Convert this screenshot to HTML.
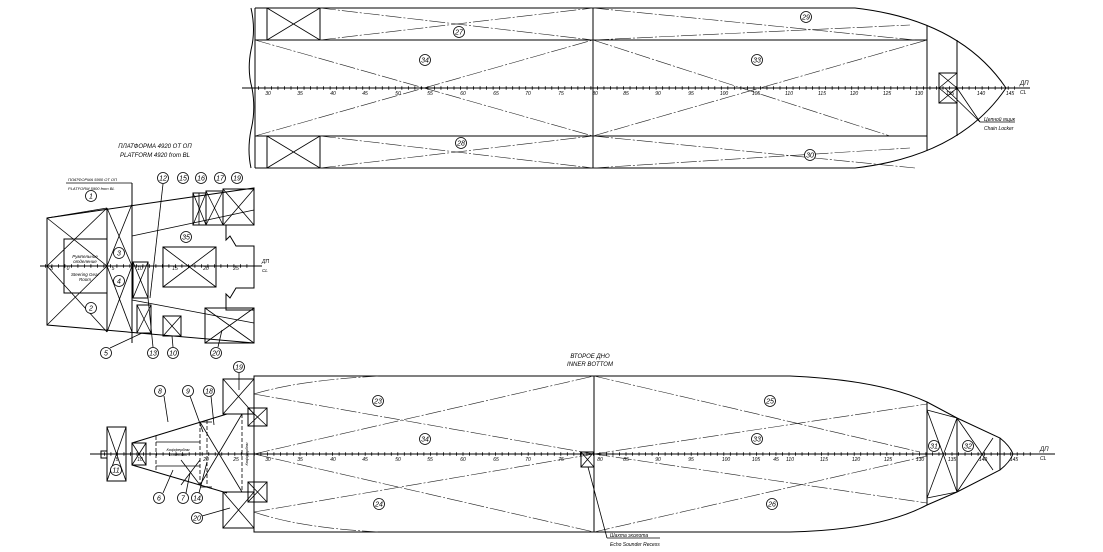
<!DOCTYPE html>
<html><head><meta charset="utf-8"><style>
html,body{margin:0;padding:0;background:#fff;}
svg{display:block;}
text{font-family:"Liberation Sans",sans-serif;font-style:italic;fill:#000;}
.s{stroke:#000;fill:none;stroke-width:1;}
.t{stroke:#000;fill:none;stroke-width:0.8;}
.d{stroke:#222;fill:none;stroke-width:0.6;stroke-dasharray:16 2 2 2;}
.c{stroke:#000;fill:#fff;stroke-width:0.8;}
.n{font-size:7px;text-anchor:middle;font-style:italic;}
.f{font-size:5px;text-anchor:middle;}
</style></head><body>
<svg width="1103" height="552" viewBox="0 0 1103 552" xmlns="http://www.w3.org/2000/svg">
<!-- ========== TOP HULL ========== -->
<path class="s" d="M251 8 Q256 30 251 50 Q247 70 252 88 Q256 110 251 130 Q247 150 251 168"/>
<line class="s" x1="255" y1="8" x2="255" y2="168"/>
<path class="s" d="M255 8 L855 8 Q960 20 1006 88 Q960 156 855 168 L255 168"/>
<line class="s" x1="255" y1="40" x2="927" y2="40"/>
<line class="s" x1="255" y1="136" x2="927" y2="136"/>
<line class="s" x1="927" y1="25" x2="927" y2="151"/>
<line class="s" x1="957" y1="40" x2="957" y2="136"/>
<line class="s" x1="320" y1="8" x2="320" y2="40"/><line class="s" x1="320" y1="136" x2="320" y2="168"/>
<line class="s" x1="267" y1="8" x2="267" y2="40"/><line class="s" x1="267" y1="136" x2="267" y2="168"/>
<line class="t" x1="267" y1="8" x2="320" y2="40"/><line class="t" x1="267" y1="40" x2="320" y2="8"/>
<line class="t" x1="267" y1="136" x2="320" y2="168"/><line class="t" x1="267" y1="168" x2="320" y2="136"/>
<line class="s" x1="593" y1="8" x2="593" y2="168" stroke="#555"/>
<line class="d" x1="320" y1="8" x2="593" y2="40"/><line class="d" x1="320" y1="40" x2="593" y2="8"/>
<line class="d" x1="320" y1="136" x2="593" y2="168"/><line class="d" x1="320" y1="168" x2="593" y2="136"/>
<line class="d" x1="593" y1="8" x2="915" y2="40"/><line class="d" x1="593" y1="40" x2="910" y2="25"/>
<line class="d" x1="593" y1="136" x2="915" y2="168"/><line class="d" x1="593" y1="168" x2="910" y2="148"/>
<line class="d" x1="255" y1="40" x2="593" y2="136"/><line class="d" x1="255" y1="136" x2="593" y2="40"/>
<line class="d" x1="593" y1="40" x2="890" y2="136"/><line class="d" x1="593" y1="136" x2="927" y2="40"/>
<rect class="s" x="939" y="73" width="18" height="30"/>
<line class="t" x1="939" y1="73" x2="957" y2="88"/><line class="t" x1="939" y1="88" x2="957" y2="73"/>
<line class="t" x1="939" y1="88" x2="957" y2="103"/><line class="t" x1="939" y1="103" x2="957" y2="88"/>
<line class="t" x1="945" y1="88" x2="980" y2="122"/><line class="t" x1="957" y1="88" x2="980" y2="122"/>
<line class="t" x1="980" y1="122" x2="1015" y2="122"/>
<text x="984" y="121" style="font-size:5px">Цепной ящик</text>
<text x="984" y="130" style="font-size:5px">Chain Locker</text>
<line class="s" x1="242" y1="88" x2="1030" y2="88"/>
<line x1="258" y1="88" x2="1015" y2="88" stroke="#000" stroke-width="3.5" stroke-dasharray="0.8 5.72"/>
<text x="1020" y="85" style="font-size:6px">ДП</text><text x="1020" y="94" style="font-size:5px">CL</text>
<g class="f">
<text x="268" y="95">30</text><text x="300" y="95">35</text><text x="333" y="95">40</text><text x="365" y="95">45</text><text x="398" y="95">50</text><text x="430" y="95">55</text><text x="463" y="95">60</text><text x="496" y="95">65</text><text x="528" y="95">70</text><text x="561" y="95">75</text><text x="595" y="95">80</text><text x="626" y="95">85</text><text x="658" y="95">90</text><text x="691" y="95">95</text><text x="724" y="95">100</text><text x="756" y="95">105</text><text x="789" y="95">110</text><text x="822" y="95">115</text><text x="854" y="95">120</text><text x="887" y="95">125</text><text x="919" y="95">130</text><text x="950" y="95">135</text><text x="981" y="95">140</text><text x="1010" y="95">145</text>
</g>
<g>
<circle class="c" cx="459" cy="32" r="5.5"/><text class="n" x="459" y="34.5">27</text>
<circle class="c" cx="425" cy="60" r="5.5"/><text class="n" x="425" y="62.5">34</text>
<circle class="c" cx="461" cy="143" r="5.5"/><text class="n" x="461" y="145.5">28</text>
<circle class="c" cx="806" cy="17" r="5.5"/><text class="n" x="806" y="19.5">29</text>
<circle class="c" cx="757" cy="60" r="5.5"/><text class="n" x="757" y="62.5">33</text>
<circle class="c" cx="810" cy="155" r="5.5"/><text class="n" x="810" y="157.5">30</text>
</g>
<!-- ========== MIDDLE PLATFORM ========== -->
<text x="155" y="148" style="font-size:6px;text-anchor:middle">ПЛАТФОРМА 4920 ОТ ОП</text>
<text x="155" y="157" style="font-size:6px;text-anchor:middle">PLATFORM 4920 from BL</text>
<text x="68" y="181" style="font-size:4px">ПЛАТФОРМА 5900 ОТ ОП</text>
<text x="68" y="190" style="font-size:4px">PLATFORM 5900 from BL</text>
<line class="t" x1="66" y1="183" x2="132" y2="183"/>
<line class="s" x1="132" y1="183" x2="132" y2="343"/>
<path class="s" d="M47 218 L254 188 L254 225 L226 225 L226 240 L230 236 L236 246 L254 246 L254 288 L236 288 L230 298 L226 294 L226 310 L254 310 L254 343 L47 325 Z"/>
<line class="s" x1="107" y1="208" x2="107" y2="332"/>
<line class="t" x1="47" y1="218" x2="107" y2="208"/>
<line class="t" x1="47" y1="218" x2="107" y2="266"/><line class="t" x1="47" y1="266" x2="107" y2="208"/>
<line class="t" x1="47" y1="266" x2="107" y2="332"/><line class="t" x1="47" y1="325" x2="107" y2="266"/>
<line class="t" x1="107" y1="208" x2="132" y2="266"/><line class="t" x1="107" y1="266" x2="132" y2="204"/>
<line class="t" x1="107" y1="266" x2="132" y2="332"/><line class="t" x1="107" y1="332" x2="132" y2="266"/>
<line class="t" x1="132" y1="236" x2="254" y2="210"/>
<line class="t" x1="132" y1="300" x2="254" y2="323"/>
<rect class="s" x="64" y="239" width="43" height="54" fill="#fff"/>
<text x="85" y="258" style="font-size:4.5px;text-anchor:middle">Румпельное</text>
<text x="85" y="263" style="font-size:4.5px;text-anchor:middle">отделение</text>
<text x="85" y="276" style="font-size:4.5px;text-anchor:middle">Steering Gear</text>
<text x="85" y="281" style="font-size:4.5px;text-anchor:middle">Room</text>
<rect class="s" x="133" y="262" width="15" height="36"/>
<line class="t" x1="133" y1="262" x2="148" y2="298"/><line class="t" x1="133" y1="298" x2="148" y2="262"/>
<rect class="s" x="163" y="247" width="53" height="40"/>
<line class="t" x1="163" y1="247" x2="216" y2="287"/><line class="t" x1="163" y1="287" x2="216" y2="247"/>
<rect class="s" x="193" y="193" width="13" height="32"/>
<line class="t" x1="193" y1="193" x2="206" y2="225"/><line class="t" x1="193" y1="225" x2="206" y2="193"/>
<line class="t" x1="199" y1="193" x2="199" y2="225"/>
<rect class="s" x="206" y="191" width="17" height="34"/>
<line class="t" x1="206" y1="191" x2="223" y2="225"/><line class="t" x1="206" y1="225" x2="223" y2="191"/>
<rect class="s" x="223" y="189" width="31" height="36"/>
<line class="t" x1="223" y1="189" x2="254" y2="225"/><line class="t" x1="223" y1="225" x2="254" y2="189"/>
<rect class="s" x="137" y="305" width="14" height="28"/>
<line class="t" x1="137" y1="305" x2="151" y2="333"/><line class="t" x1="137" y1="333" x2="151" y2="305"/>
<rect class="s" x="163" y="316" width="18" height="20"/>
<line class="t" x1="163" y1="316" x2="181" y2="336"/><line class="t" x1="163" y1="336" x2="181" y2="316"/>
<rect class="s" x="205" y="308" width="49" height="35"/>
<line class="t" x1="205" y1="308" x2="254" y2="343"/><line class="t" x1="205" y1="343" x2="254" y2="308"/>
<line class="s" x1="40" y1="266" x2="262" y2="266"/>
<line x1="45" y1="266" x2="250" y2="266" stroke="#000" stroke-width="3.5" stroke-dasharray="0.8 5.7"/>
<text x="262" y="263" style="font-size:5px">ДП</text><text x="262" y="272" style="font-size:4.5px">CL</text>
<g class="f"><text x="51" y="270">-5</text><text x="68" y="270">0</text><text x="113" y="270">5</text><text x="140" y="270">10</text><text x="175" y="270">15</text><text x="206" y="270">20</text><text x="236" y="270">25</text></g>
<line class="t" x1="163" y1="184" x2="150" y2="298"/>
<line class="t" x1="148" y1="298" x2="153" y2="347"/>
<line class="t" x1="142" y1="333" x2="110" y2="348"/>
<line class="t" x1="172" y1="336" x2="173" y2="347"/>
<line class="t" x1="222" y1="330" x2="218" y2="347"/>
<g>
<circle class="c" cx="91" cy="196" r="5.5"/><text class="n" x="91" y="198.5">1</text>
<circle class="c" cx="91" cy="308" r="5.5"/><text class="n" x="91" y="310.5">2</text>
<circle class="c" cx="119" cy="253" r="5.5"/><text class="n" x="119" y="255.5">3</text>
<circle class="c" cx="119" cy="281" r="5.5"/><text class="n" x="119" y="283.5">4</text>
<circle class="c" cx="163" cy="178" r="5.5"/><text class="n" x="163" y="180.5">12</text>
<circle class="c" cx="183" cy="178" r="5.5"/><text class="n" x="183" y="180.5">15</text>
<circle class="c" cx="201" cy="178" r="5.5"/><text class="n" x="201" y="180.5">16</text>
<circle class="c" cx="220" cy="178" r="5.5"/><text class="n" x="220" y="180.5">17</text>
<circle class="c" cx="237" cy="178" r="5.5"/><text class="n" x="237" y="180.5">19</text>
<circle class="c" cx="186" cy="237" r="5.5"/><text class="n" x="186" y="239.5">35</text>
<circle class="c" cx="106" cy="353" r="5.5"/><text class="n" x="106" y="355.5">5</text>
<circle class="c" cx="153" cy="353" r="5.5"/><text class="n" x="153" y="355.5">13</text>
<circle class="c" cx="173" cy="353" r="5.5"/><text class="n" x="173" y="355.5">10</text>
<circle class="c" cx="216" cy="353" r="5.5"/><text class="n" x="216" y="355.5">20</text>
</g>
<!-- ========== BOTTOM HULL ========== -->
<text x="590" y="358" style="font-size:6px;text-anchor:middle">ВТОРОЕ ДНО</text>
<text x="590" y="366" style="font-size:6px;text-anchor:middle">INNER BOTTOM</text>
<path class="s" d="M254 376 L790 376 Q880 380 927 402 L927 505 Q880 530 790 532 L254 532 Z"/>
<path class="s" d="M927 402 L957 418 L1000 438 Q1010 446 1013 454 Q1010 462 1000 470 L957 492 L927 505"/>
<line class="s" x1="957" y1="418" x2="957" y2="492"/>
<line class="s" x1="1000" y1="438" x2="1000" y2="470"/>
<line class="t" x1="927" y1="410" x2="957" y2="492"/><line class="t" x1="927" y1="498" x2="957" y2="418"/>
<line class="t" x1="957" y1="418" x2="993" y2="470"/><line class="t" x1="957" y1="492" x2="993" y2="438"/>
<line class="t" x1="927" y1="410" x2="957" y2="418"/><line class="t" x1="927" y1="498" x2="957" y2="492"/>
<line class="s" x1="594" y1="376" x2="594" y2="532" stroke="#555"/>
<path class="d" d="M254 394 Q300 380 380 376"/><path class="d" d="M254 512 Q300 528 380 532"/>
<line class="d" x1="254" y1="394" x2="594" y2="454"/><line class="d" x1="254" y1="454" x2="594" y2="376"/>
<line class="d" x1="254" y1="454" x2="594" y2="532"/><line class="d" x1="254" y1="512" x2="594" y2="454"/>
<line class="d" x1="594" y1="376" x2="920" y2="452"/><line class="d" x1="594" y1="454" x2="927" y2="404"/>
<line class="d" x1="594" y1="454" x2="927" y2="503"/><line class="d" x1="594" y1="532" x2="927" y2="456"/>
<rect class="s" x="581" y="452" width="13" height="15"/>
<line class="t" x1="581" y1="452" x2="594" y2="467"/><line class="t" x1="581" y1="467" x2="594" y2="452"/>
<line class="t" x1="588" y1="467" x2="607" y2="538"/><line class="t" x1="607" y1="538" x2="660" y2="538"/>
<text x="610" y="537" style="font-size:5px">Шахта эхолота</text>
<text x="610" y="546" style="font-size:5px">Echo Sounder Recess</text>
<!-- stern -->
<rect class="s" x="223" y="379" width="31" height="35"/>
<line class="t" x1="223" y1="379" x2="254" y2="414"/><line class="t" x1="223" y1="414" x2="254" y2="379"/>
<rect class="s" x="223" y="492" width="31" height="36"/>
<line class="t" x1="223" y1="492" x2="254" y2="528"/><line class="t" x1="223" y1="528" x2="254" y2="492"/>
<rect class="s" x="248" y="408" width="19" height="18"/>
<line class="t" x1="248" y1="408" x2="267" y2="426"/><line class="t" x1="248" y1="426" x2="267" y2="408"/>
<rect class="s" x="248" y="482" width="19" height="20"/>
<line class="t" x1="248" y1="482" x2="267" y2="502"/><line class="t" x1="248" y1="502" x2="267" y2="482"/>
<path class="s" d="M132 443 L227 414 M132 465 L227 493"/>
<line class="s" x1="254" y1="414" x2="254" y2="492"/>
<line class="t" x1="242" y1="414" x2="242" y2="492" stroke-dasharray="4 2"/>
<line class="t" x1="156" y1="436" x2="156" y2="472" stroke-dasharray="4 2"/>
<line class="t" x1="200" y1="422" x2="200" y2="485" stroke-dasharray="4 2"/>
<line class="t" x1="207" y1="420" x2="207" y2="487" stroke-dasharray="4 2"/>
<line class="t" x1="200" y1="422" x2="242" y2="492"/><line class="t" x1="200" y1="485" x2="242" y2="414"/>
<line class="t" x1="200" y1="422" x2="212" y2="422"/><line class="t" x1="200" y1="487" x2="212" y2="487"/>
<line class="t" x1="156" y1="442" x2="200" y2="442"/><line class="t" x1="156" y1="466" x2="200" y2="466"/>
<line class="t" x1="181" y1="460" x2="200" y2="485"/><line class="t" x1="181" y1="485" x2="200" y2="460"/>
<rect class="s" x="107" y="427" width="19" height="54"/>
<line class="t" x1="107" y1="427" x2="126" y2="481"/><line class="t" x1="107" y1="481" x2="126" y2="427"/>
<rect class="s" x="101" y="451" width="6" height="7"/>
<rect class="s" x="132" y="443" width="14" height="22" fill="none"/>
<line class="t" x1="132" y1="443" x2="146" y2="465"/><line class="t" x1="132" y1="465" x2="146" y2="443"/>
<text x="178" y="451" style="font-size:4px;text-anchor:middle">Коффердам</text>
<text x="178" y="456" style="font-size:4px;text-anchor:middle">Cofferdam</text>
<text x="248" y="454" style="font-size:4px;text-anchor:middle" transform="rotate(-90 248 454)">Коффердам</text>
<line class="s" x1="90" y1="454" x2="1055" y2="454"/>
<line x1="104" y1="454" x2="1035" y2="454" stroke="#000" stroke-width="3.5" stroke-dasharray="0.8 5.72"/>
<text x="1040" y="451" style="font-size:6px">ДП</text><text x="1040" y="460" style="font-size:5px">CL</text>
<g class="f">
<text x="117" y="461">5</text><text x="140" y="461">10</text><text x="206" y="461">20</text><text x="236" y="461">25</text>
<text x="268" y="461">30</text><text x="300" y="461">35</text><text x="333" y="461">40</text><text x="365" y="461">45</text><text x="398" y="461">50</text><text x="430" y="461">55</text><text x="463" y="461">60</text><text x="496" y="461">65</text><text x="528" y="461">70</text><text x="561" y="461">75</text><text x="600" y="461">80</text><text x="626" y="461">85</text><text x="658" y="461">90</text><text x="691" y="461">95</text><text x="726" y="461">100</text><text x="756" y="461">105</text><text x="776" y="461">45</text><text x="790" y="461">110</text><text x="824" y="461">115</text><text x="856" y="461">120</text><text x="888" y="461">125</text><text x="920" y="461">130</text><text x="952" y="461">135</text><text x="983" y="461">140</text><text x="1014" y="461">145</text>
</g>
<line class="t" x1="164" y1="396" x2="168" y2="422"/>
<line class="t" x1="190" y1="396" x2="203" y2="432"/>
<line class="t" x1="211" y1="396" x2="214" y2="425"/>
<line class="t" x1="163" y1="493" x2="173" y2="470"/>
<line class="t" x1="186" y1="493" x2="190" y2="473"/>
<line class="t" x1="199" y1="493" x2="207" y2="462"/>
<line class="t" x1="202" y1="516" x2="230" y2="508"/>
<line class="t" x1="239" y1="373" x2="239" y2="390"/>
<g>
<circle class="c" cx="239" cy="367" r="5.5"/><text class="n" x="239" y="369.5">19</text>
<circle class="c" cx="160" cy="391" r="5.5"/><text class="n" x="160" y="393.5">8</text>
<circle class="c" cx="188" cy="391" r="5.5"/><text class="n" x="188" y="393.5">9</text>
<circle class="c" cx="209" cy="391" r="5.5"/><text class="n" x="209" y="393.5">18</text>
<circle class="c" cx="378" cy="401" r="5.5"/><text class="n" x="378" y="403.5">23</text>
<circle class="c" cx="770" cy="401" r="5.5"/><text class="n" x="770" y="403.5">25</text>
<circle class="c" cx="425" cy="439" r="5.5"/><text class="n" x="425" y="441.5">34</text>
<circle class="c" cx="757" cy="439" r="5.5"/><text class="n" x="757" y="441.5">33</text>
<circle class="c" cx="934" cy="446" r="5.5"/><text class="n" x="934" y="448.5">31</text>
<circle class="c" cx="968" cy="446" r="5.5"/><text class="n" x="968" y="448.5">32</text>
<circle class="c" cx="379" cy="504" r="5.5"/><text class="n" x="379" y="506.5">24</text>
<circle class="c" cx="772" cy="504" r="5.5"/><text class="n" x="772" y="506.5">26</text>
<circle class="c" cx="116" cy="470" r="5.5"/><text class="n" x="116" y="472.5">11</text>
<circle class="c" cx="159" cy="498" r="5.5"/><text class="n" x="159" y="500.5">6</text>
<circle class="c" cx="183" cy="498" r="5.5"/><text class="n" x="183" y="500.5">7</text>
<circle class="c" cx="197" cy="498" r="5.5"/><text class="n" x="197" y="500.5">14</text>
<circle class="c" cx="197" cy="518" r="5.5"/><text class="n" x="197" y="520.5">20</text>
</g>
</svg>
</body></html>
